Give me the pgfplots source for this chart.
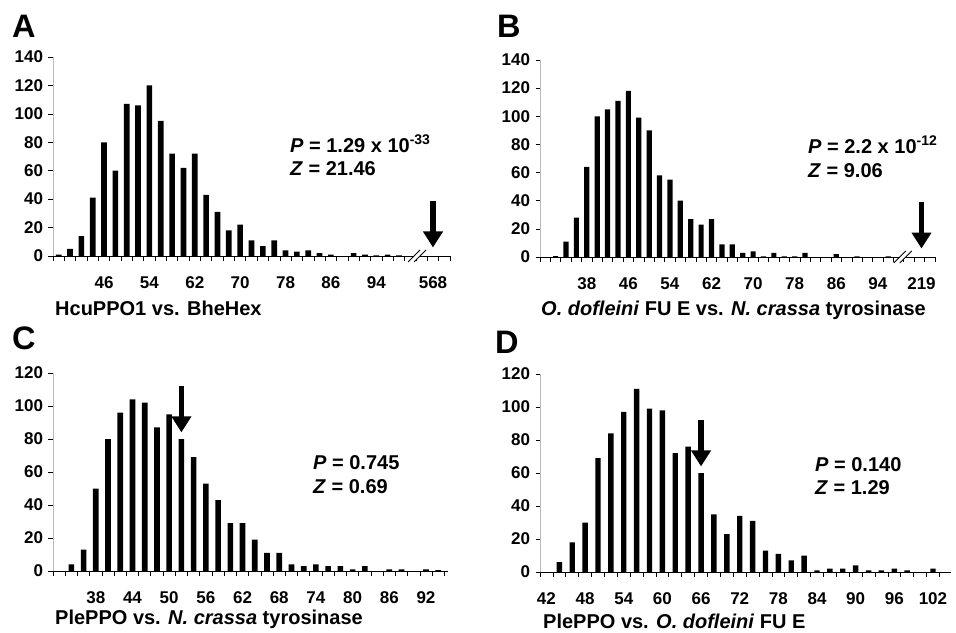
\documentclass[border=0pt]{standalone}
\usepackage{pgfplots}
\usepackage{pgfplotstable}
\pgfplotsset{compat=1.18}
\usepackage{fontspec}
\setmainfont{Liberation Sans}
\usetikzlibrary{arrows.meta}

\pgfplotstableread{
bin n
38 1
40 5
42 14
44 41
46 80
48 60
50 107
52 106
54 120
56 95
58 72
60 62
62 72
64 43
66 31
68 18
70 22
72 11
74 7
76 11
78 4
80 3
82 4
84 2
86 1
88 0
90 2
92 1
94 0.5
96 1
98 0.5
}\dataA

\pgfplotstableread{
bin n
32 0.7
34 11
36 28
38 64
40 100
42 105
44 111
46 118
48 99
50 90
52 58
54 55
56 40
58 27
60 23
62 27
64 9
66 9
68 3
70 4
72 0.5
74 3
76 0.5
78 0.5
80 3
82 0
84 0
86 2
88 0
90 0.5
92 0
94 0
96 0.5
}\dataB

\pgfplotstableread{
bin n
34 4
36 13
38 50
40 80
42 96
44 104
46 102
48 87
50 95
52 80
54 69
56 53
58 43
60 29
62 29
64 19
66 11
68 11
70 4
72 3
74 4
76 3
78 3
80 1
82 3
84 0
86 1
88 1
90 0
92 1
94 0.5
}\dataC

\pgfplotstableread{
bin n
42 0
44 6
46 18
48 30
50 69
52 84
54 97
56 111
58 99
60 98
62 72
64 76
66 60
68 35
70 23
72 34
74 31
76 13
78 11
80 7
82 10
84 1
86 2
88 2
90 4
92 1
94 1
96 2
98 1
100 0
102 2
}\dataD

\pgfplotsset{
  hist/.style={
    scale only axis,
    anchor=south west,
    axis x line*=bottom,
    axis y line*=left,
    x axis line style={black, line width=0.9bp, -},
    y axis line style={gray!55, line width=0.7bp, -},
    ymin=0,
    tick align=outside,
    major tick length=4.5bp,
    tick style={black, line width=0.7bp},
    xticklabels={},
    extra x tick style={major tick length=0pt},
    ticklabel style={font=\fontsize{17bp}{17bp}\selectfont\bfseries},
    xticklabel style={yshift=-17bp},
    yticklabel style={xshift=-2bp},
    /pgf/number format/assume math mode=true,
    ybar, bar width=0.5,
    clip=false,
  },
}
\tikzset{
  bigtext/.style={font=\fontsize{20bp}{22bp}\selectfont\bfseries, anchor=base west, inner sep=0pt},
  letter/.style={font=\fontsize{32.5bp}{32bp}\selectfont\bfseries, anchor=base west, inner sep=0pt},
  bigarrow/.style={line width=5.8bp, -{Triangle[width=19bp,length=16bp]}},
}

\begin{document}
\begin{tikzpicture}
\useasboundingbox (0,0) rectangle (956bp,-633bp);

% ---------------- A ----------------
\begin{axis}[hist, at={(53bp,-256bp)}, width=397bp, height=199bp,
  xmin=-0.5, xmax=34.5, ymax=140, ytick={0,20,...,140},
  xtick={-0.5,0.5,...,34.5},
  extra x ticks={4,8,12,16,20,24,28,33},
  extra x tick labels={46,54,62,70,78,86,94,568}]
\addplot[fill=black, draw=none] table[x expr={(\thisrow{bin}-38)/2}, y=n] {\dataA};
\draw[bigarrow] (axis cs:33,39) -- (axis cs:33,6);
\fill[white] ([xshift=-9bp,yshift=-6bp]axis cs:31.6,0) -- ([xshift=3bp,yshift=6bp]axis cs:31.6,0) -- ([xshift=9bp,yshift=6bp]axis cs:31.6,0) -- ([xshift=-3bp,yshift=-6bp]axis cs:31.6,0) -- cycle;
\draw[line width=0.9bp] ([xshift=-9bp,yshift=-6bp]axis cs:31.6,0) -- ([xshift=3bp,yshift=6bp]axis cs:31.6,0);
\draw[line width=0.9bp] ([xshift=-3bp,yshift=-6bp]axis cs:31.6,0) -- ([xshift=9bp,yshift=6bp]axis cs:31.6,0);
\end{axis}

% ---------------- B ----------------
\begin{axis}[hist, at={(540bp,-257bp)}, width=395bp, height=197bp,
  xmin=-1.5, xmax=36.5, ymax=140, ytick={0,20,...,140},
  xtick={-1.5,-0.5,...,36.5},
  extra x ticks={3,7,11,15,19,23,27,31,35.2},
  extra x tick labels={38,46,54,62,70,78,86,94,219}]
\addplot[fill=black, draw=none] table[x expr={(\thisrow{bin}-32)/2}, y=n] {\dataB};
\draw[bigarrow] (axis cs:35.2,39) -- (axis cs:35.2,6);
\fill[white] ([xshift=-9bp,yshift=-6bp]axis cs:33.4,0) -- ([xshift=3bp,yshift=6bp]axis cs:33.4,0) -- ([xshift=9bp,yshift=6bp]axis cs:33.4,0) -- ([xshift=-3bp,yshift=-6bp]axis cs:33.4,0) -- cycle;
\draw[line width=0.9bp] ([xshift=-9bp,yshift=-6bp]axis cs:33.4,0) -- ([xshift=3bp,yshift=6bp]axis cs:33.4,0);
\draw[line width=0.9bp] ([xshift=-3bp,yshift=-6bp]axis cs:33.4,0) -- ([xshift=9bp,yshift=6bp]axis cs:33.4,0);
\end{axis}

% ---------------- C ----------------
\begin{axis}[hist, at={(53bp,-571bp)}, width=395bp, height=198bp,
  xmin=-1.5, xmax=30.8, ymax=120, ytick={0,20,...,120},
  bar width=0.46,
  xtick={-1.5,-0.5,...,30.5},
  extra x ticks={2,5,8,11,14,17,20,23,26,29},
  extra x tick labels={38,44,50,56,62,68,74,80,86,92}]
\addplot[fill=black, draw=none] table[x expr={(\thisrow{bin}-34)/2}, y=n] {\dataC};
\draw[bigarrow] (axis cs:9,112) -- (axis cs:9,84);
\end{axis}

% ---------------- D ----------------
\begin{axis}[hist, at={(540bp,-572bp)}, width=411bp, height=198bp,
  xmin=-0.5, xmax=31.4, ymax=120, ytick={0,20,...,120},
  bar width=0.42,
  xtick={-0.5,0.5,...,31.5},
  extra x ticks={0,3,6,9,12,15,18,21,24,27,30},
  extra x tick labels={42,48,54,60,66,72,78,84,90,96,102}]
\addplot[fill=black, draw=none] table[x expr={(\thisrow{bin}-42)/2}, y=n] {\dataD};
\draw[bigarrow] (axis cs:12,92) -- (axis cs:12,64);
\end{axis}

% ---------------- texts ----------------
\node[letter] at (12bp,-37bp) {A};
\node[letter] at (497bp,-37bp) {B};
\node[letter] at (12bp,-349bp) {C};
\node[letter] at (495bp,-353bp) {D};

\node[bigtext] at (55bp,-315bp) {HcuPPO1 vs. BheHex};
\node[bigtext] at (541bp,-315bp) {\textit{O. dofleini} FU E vs. \textit{N. crassa} tyrosinase};
\node[bigtext] at (55bp,-624bp) {PlePPO vs. \textit{N. crassa} tyrosinase};
\node[bigtext] at (543bp,-628bp) {PlePPO vs. \textit{O. dofleini} FU E};

\node[bigtext] at (290bp,-152bp) {\textit{P} = 1.29 x 10\textsuperscript{-33}};
\node[bigtext] at (290bp,-175bp) {\textit{Z} = 21.46};
\node[bigtext] at (808bp,-153bp) {\textit{P} = 2.2 x 10\textsuperscript{-12}};
\node[bigtext] at (808bp,-177bp) {\textit{Z} = 9.06};
\node[bigtext] at (313bp,-469bp) {\textit{P} = 0.745};
\node[bigtext] at (313bp,-493bp) {\textit{Z} = 0.69};
\node[bigtext] at (815bp,-471bp) {\textit{P} = 0.140};
\node[bigtext] at (815bp,-494bp) {\textit{Z} = 1.29};
\end{tikzpicture}
\end{document}
